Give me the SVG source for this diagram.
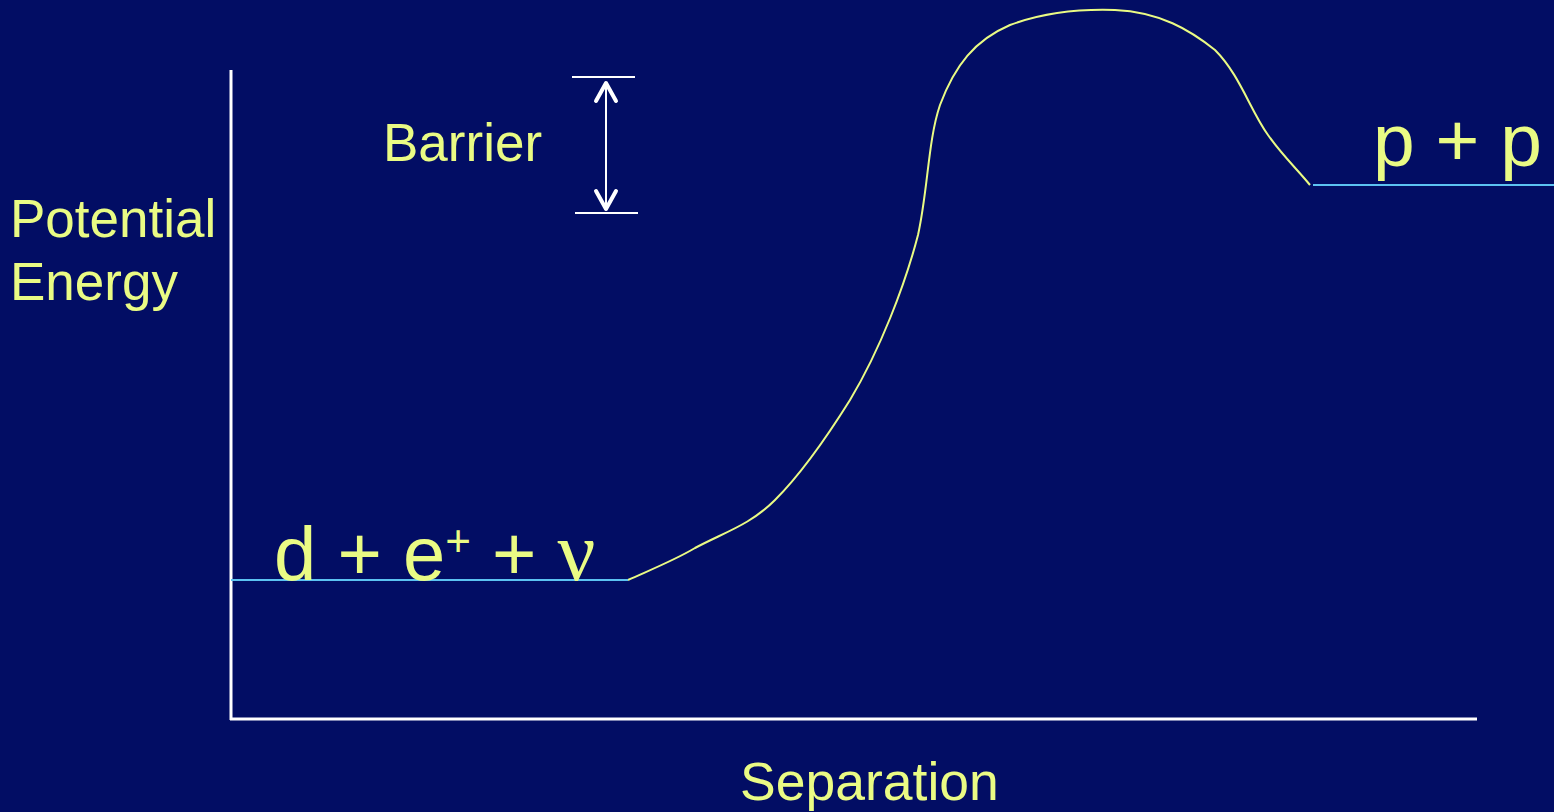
<svg xmlns="http://www.w3.org/2000/svg" width="1554" height="812" viewBox="0 0 1554 812">
<style>
.t{font-family:"Liberation Sans",Arial,sans-serif;fill:#EAFB84}
.ax{stroke:#FFFFFF;stroke-width:3;fill:none}
.lvl{stroke:#5CC2F2;stroke-width:2;fill:none}
</style>
<rect width="1554" height="812" fill="#020D64"/>
<g id="axes">
<line class="ax" x1="231" y1="70" x2="231" y2="720"/>
<line class="ax" x1="230" y1="719" x2="1477" y2="719"/>
</g>
<g id="labels">
<text class="t" x="10" y="237" font-size="53">Potential</text>
<text class="t" x="10" y="300" font-size="53">Energy</text>
<text class="t" x="740" y="800" font-size="53.5">Separation</text>
<text class="t" x="383" y="161" font-size="53">Barrier</text>
</g>
<g id="connectors">
<path d="M628,580 C650,570 675,560 695,548 C725,532 750,525 775,500 C800,475 825,440 850,400 C880,350 905,285 918,235 C928,190 928,140 940,105 C955,65 975,40 1010,25 C1045,12 1085,9 1115,10 C1160,12 1190,30 1215,50 C1240,75 1250,110 1268,135 C1282,155 1296,168 1310,185" fill="none" stroke="#EAFB84" stroke-width="2"/>
<line class="lvl" x1="231" y1="580" x2="628" y2="580"/>
<line class="lvl" x1="1313" y1="185" x2="1554" y2="185"/>
</g>
<g id="barrier-arrow" stroke="#FFFFFF" fill="none">
<line x1="572" y1="77" x2="635" y2="77" stroke-width="2"/>
<line x1="575" y1="213" x2="638" y2="213" stroke-width="2"/>
<line x1="606" y1="82" x2="606" y2="209" stroke-width="2"/>
<polyline points="596,101 606,83 616,101" stroke-width="4" stroke-linecap="round" stroke-linejoin="round"/>
<polyline points="596,191 606,209 616,191" stroke-width="4" stroke-linecap="round" stroke-linejoin="round"/>
</g>
<g id="node-dev">
<text class="t" x="274" y="580" font-size="76">d + e<tspan font-size="44" dy="-24">+</tspan><tspan dy="24"> + </tspan><tspan font-family="'Liberation Serif',serif" font-size="84">ν</tspan></text>
</g>
<g id="node-pp">
<text class="t" x="1373" y="166" font-size="75">p + p</text>
</g>
</svg>
